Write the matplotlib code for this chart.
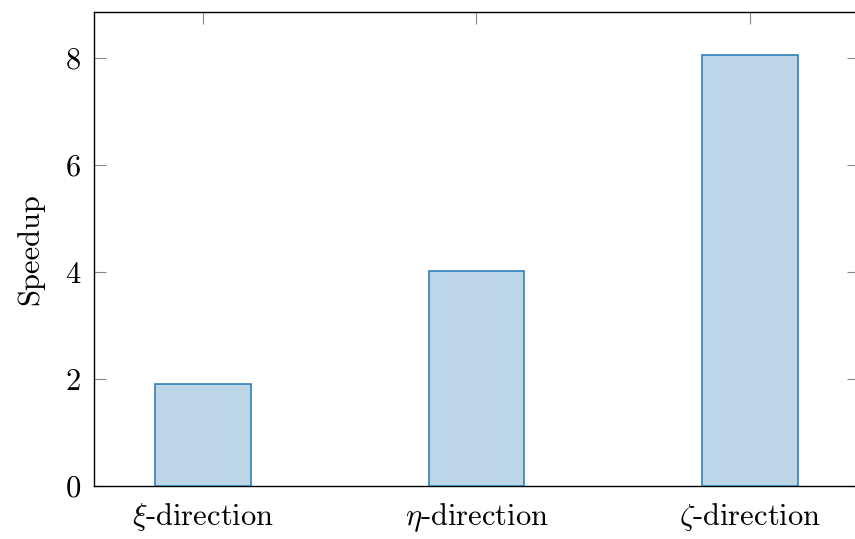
import matplotlib
matplotlib.use("Agg")
import matplotlib.pyplot as plt

# Speedup per sweep direction
categories = [r"$\xi$-direction", r"$\eta$-direction", r"$\zeta$-direction"]
speedup = [1.90, 4.03, 8.06]
yticks = [0, 2, 4, 6, 8]

plt.rcParams["font.family"] = "serif"
plt.rcParams["font.serif"] = ["cmr10", "DejaVu Serif"]
plt.rcParams["mathtext.fontset"] = "cm"
plt.rcParams["axes.formatter.use_mathtext"] = True
plt.rcParams["font.size"] = 22

fig = plt.figure(figsize=(8.55, 5.39), dpi=100)
ax = fig.add_axes([0.1095, 0.0983, 0.8956, 0.8800])

x = list(range(len(categories)))
ax.bar(x, speedup, width=0.35, color="#bcd6e8", edgecolor="#1f77b4",
       linewidth=1.1, zorder=3)

ax.set_xlim(-0.4, 2.4)
ax.set_ylim(0, 8.87)
ax.set_xticks(x)
ax.set_xticklabels(categories)
ax.set_yticks(yticks)
ax.set_ylabel("Speedup")
ax.yaxis.set_label_coords(-0.064, 0.5)

for s in ax.spines.values():
    s.set_linewidth(1.0)
    s.set_color("black")
ax.spines["right"].set_visible(False)

ax.tick_params(axis="x", direction="in", bottom=False, top=True,
               labelbottom=True, labeltop=False, length=8.5, width=0.8,
               color="#888888", pad=11)
ax.tick_params(axis="y", direction="in", left=True, right=True,
               length=8.5, width=0.8, color="#888888", pad=9)

fig.savefig("out.png", dpi=100)
